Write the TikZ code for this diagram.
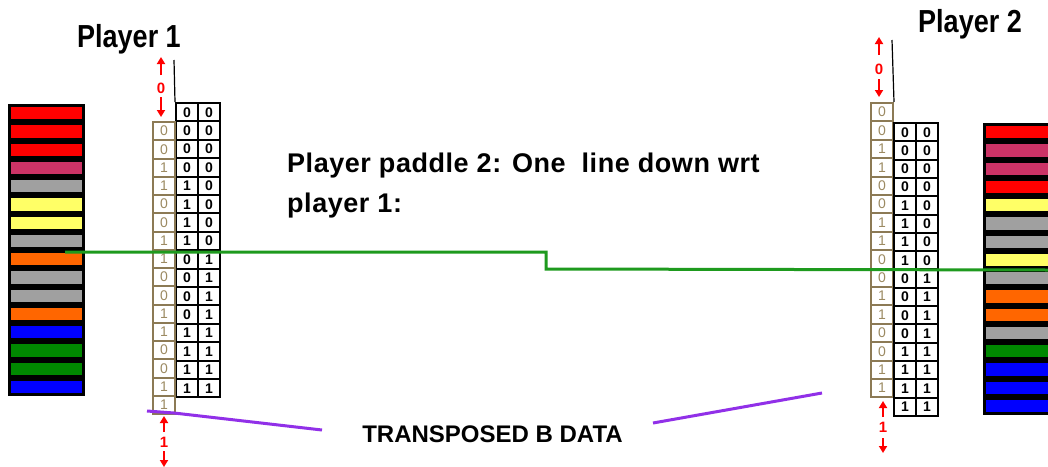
\documentclass[tikz,border=0pt]{standalone}
\usepackage{fontspec}
\setmainfont{Liberation Sans}
\newfontfamily\spacedfont[LetterSpace=2]{Liberation Sans}
\usetikzlibrary{arrows.meta}
\definecolor{cR}{HTML}{FF0000}
\definecolor{cC}{HTML}{CC3366}
\definecolor{cG}{HTML}{A0A0A0}
\definecolor{cY}{HTML}{FFFF66}
\definecolor{cO}{HTML}{FF6600}
\definecolor{cB}{HTML}{0000FF}
\definecolor{cN}{HTML}{008800}
\definecolor{tanline}{HTML}{8C7A55}
\definecolor{tandigit}{HTML}{9C8A62}
\definecolor{greenline}{HTML}{1E9A1E}
\definecolor{purpleline}{HTML}{9130E8}
\tikzset{
  bar/.style={draw=black, line width=3pt},
  bcell/.style={draw=black, line width=2pt, inner sep=0pt, anchor=north west,
    minimum width=22pt, minimum height=18.4pt, font=\fontsize{14}{14}\selectfont\bfseries},
  tcell/.style={draw=tanline, line width=2pt, inner sep=0pt, anchor=north west,
    minimum width=22pt, minimum height=18.3pt, text=tandigit, font=\fontsize{14}{14}\selectfont},
  rdigit/.style={text=cR, inner sep=0pt, font=\fontsize{15}{15}\selectfont\bfseries},
  rarrow/.style={draw=cR, line width=2pt, -{Triangle[width=8pt,length=7pt]}},
  title/.style={anchor=base, inner sep=0pt, font=\fontsize{27}{27}\selectfont\bfseries},
  midtext/.style={anchor=base west, inner sep=0pt, font=\fontsize{27}{27}\spacedfont\bfseries},
  green/.style={draw=greenline, line width=3pt},
  purple/.style={draw=purpleline, line width=3pt},
}
\begin{document}
\begin{tikzpicture}[x=1pt,y=-1pt]
\useasboundingbox (0,0) rectangle (1048,466);
\fill[white] (0,0) rectangle (1048,466);

% left colour stack
\foreach \c [count=\i from 0] in {cR,cR,cR,cC,cG,cY,cY,cG,cO,cG,cG,cO,cB,cN,cN,cB}
  \draw[bar, fill=\c] (9,{104+18.25*\i+1.5}) rectangle (83,{104+18.25*(\i+1)-1.5});
% right colour stack
\foreach \c [count=\i from 0] in {cR,cC,cC,cR,cY,cG,cG,cY,cG,cO,cO,cG,cN,cB,cB,cB}
  \draw[bar, fill=\c] (984,{123+18.25*\i+1.5}) rectangle (1054,{123+18.25*(\i+1)-1.5});

% titles
\node[title] (p1) at (129,47) {\scalebox{1}[1.18]{Player 1}};
\node[title] (p2) at (970,32) {\scalebox{1}[1.18]{Player 2}};
\node[midtext] (m1) at (287,172) {Player paddle 2: One~~line down wrt};
\node[midtext] (m2) at (287,212) {player 1:};
\node[anchor=base, inner sep=0pt, font=\fontsize{24}{24}\selectfont\bfseries] (tb) at (492.5,442) {TRANSPOSED B DATA};

% left black grid
\foreach \a/\b [count=\i from 0] in {0/0,0/0,0/0,0/0,1/0,1/0,1/0,1/0,0/1,0/1,0/1,0/1,1/1,1/1,1/1,1/1} {
  \node[bcell] (La\i) at (175,{102+18.4*\i}) {\a};
  \node[bcell] (Lb\i) at (197,{102+18.4*\i}) {\b};
}
% left tan column
\foreach \v [count=\i from 0] in {0,0,1,1,0,0,1,1,0,0,1,1,0,0,1,1}
  \node[tcell] (Lt\i) at (152,{121+18.25*\i}) {\v};
\coordinate (Lv) at (174,60);
\draw[line width=1.2pt] (Lv) -- (La0.north west);

% right tan column
\foreach \v [count=\i from 0] in {0,0,1,1,0,0,1,1,0,0,1,1,0,0,1,1}
  \node[tcell] (Rt\i) at (870,{102+18.4*\i}) {\v};
% right black grid
\foreach \a/\b [count=\i from 0] in {0/0,0/0,0/0,0/0,1/0,1/0,1/0,1/0,0/1,0/1,0/1,0/1,1/1,1/1,1/1,1/1} {
  \node[bcell] (Ra\i) at (893,{122+18.3*\i}) {\a};
  \node[bcell] (Rb\i) at (915,{122+18.3*\i}) {\b};
}
\coordinate (Rv) at (892,40);
\draw[line width=1.2pt] (Rv) -- (Rt0.north east);

% red offset markers
\node[rdigit] (L0) at (161,88) {0};
\coordinate (L0u) at (161,57); \coordinate (L0us) at (161,75);
\coordinate (L0ds) at (161,97); \coordinate (L0d) at (161,117);
\draw[rarrow] (L0us) -- (L0u);
\draw[rarrow] (L0ds) -- (L0d);

\node[rdigit] (L1) at (164,442) {1};
\coordinate (L1u) at (164,416); \coordinate (L1us) at (164,432);
\coordinate (L1ds) at (164,451); \coordinate (L1d) at (164,467);
\draw[rarrow] (L1us) -- (L1u);
\draw[rarrow] (L1ds) -- (L1d);

\node[rdigit] (R0) at (879,69) {0};
\coordinate (R0u) at (879,37); \coordinate (R0us) at (879,55);
\coordinate (R0ds) at (879,79); \coordinate (R0d) at (879,97);
\draw[rarrow] (R0us) -- (R0u);
\draw[rarrow] (R0ds) -- (R0d);

\node[rdigit] (R1) at (883,427) {1};
\coordinate (R1u) at (883,401); \coordinate (R1us) at (883,417);
\coordinate (R1ds) at (883,438); \coordinate (R1d) at (883,453);
\draw[rarrow] (R1us) -- (R1u);
\draw[rarrow] (R1ds) -- (R1d);

% green line
\coordinate (g0) at (65,252);
\coordinate (g1) at (546,252);
\coordinate (g2) at (546,269);
\coordinate (g3) at (1048,270);
\draw[green] (g0) -- (g1) -- (g2) -- (g3);

% purple leaders
\coordinate (pl0) at (147,411);
\coordinate (pl1) at (174,413);
\coordinate (pl2) at (322,430);
\coordinate (pr0) at (653,423);
\coordinate (pr1) at (822,393);
\draw[purple] (pl0) -- (pl1) -- (pl2);
\draw[purple] (pr0) -- (pr1);
\end{tikzpicture}
\end{document}
